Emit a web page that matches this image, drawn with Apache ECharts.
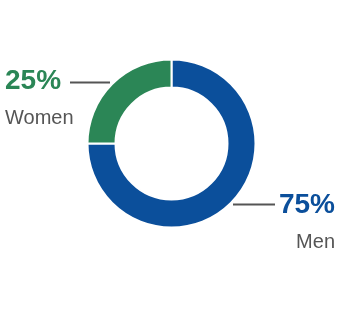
<!DOCTYPE html>
<html>
<head>
<meta charset="utf-8">
<script src="https://cdn.jsdelivr.net/npm/echarts@6/dist/echarts.min.js"></script>
<style>html,body{margin:0;padding:0;background:#fff;}#c{width:344px;height:326px;}</style>
</head>
<body>
<div id="c"></div>
<script>
var categories = ['Men', 'Women'];
var values = [75, 25];
var colors = ['#0b4f9b', '#2b8656'];

var chart = echarts.init(document.getElementById('c'), null, {renderer: 'canvas'});
var labelPos = [
  {x: 335, y: 187, align: 'right', line: [[233, 204.5], [254, 204.5], [275, 204.5]]},
  {x: 5, y: 63, align: 'left', line: [[70, 82.5], [90, 82.5], [110, 82.5]]}
];
chart.setOption({
  animation: false,
  series: [{
    type: 'pie',
    center: [171.5, 143.5],
    radius: [56, 84],
    startAngle: 90,
    clockwise: true,
    avoidLabelOverlap: false,
    itemStyle: {borderColor: '#fff', borderWidth: 2},
    label: {
      show: true,
      position: 'outside',
      fontFamily: 'Liberation Sans, Arial, sans-serif',
      formatter: function (p) { return '{p' + p.dataIndex + '|' + p.value + '%}\n{n|' + p.name + '}'; },
      rich: {
        p0: {fontSize: 28, fontWeight: 'bold', color: colors[0], lineHeight: 37, fontFamily: 'Liberation Sans, Arial, sans-serif'},
        p1: {fontSize: 28, fontWeight: 'bold', color: colors[1], lineHeight: 37, fontFamily: 'Liberation Sans, Arial, sans-serif'},
        n: {fontSize: 20, color: '#555555', lineHeight: 37, fontFamily: 'Liberation Sans, Arial, sans-serif'}
      }
    },
    labelLine: {show: true, lineStyle: {color: '#555555', width: 2}},
    labelLayout: function (params) {
      var lp = labelPos[params.dataIndex];
      return {x: lp.x, y: lp.y, align: lp.align, verticalAlign: 'top', labelLinePoints: lp.line};
    },
    data: categories.map(function (c, i) {
      return {name: c, value: values[i], itemStyle: {color: colors[i]}};
    })
  }]
});
</script>
</body>
</html>
